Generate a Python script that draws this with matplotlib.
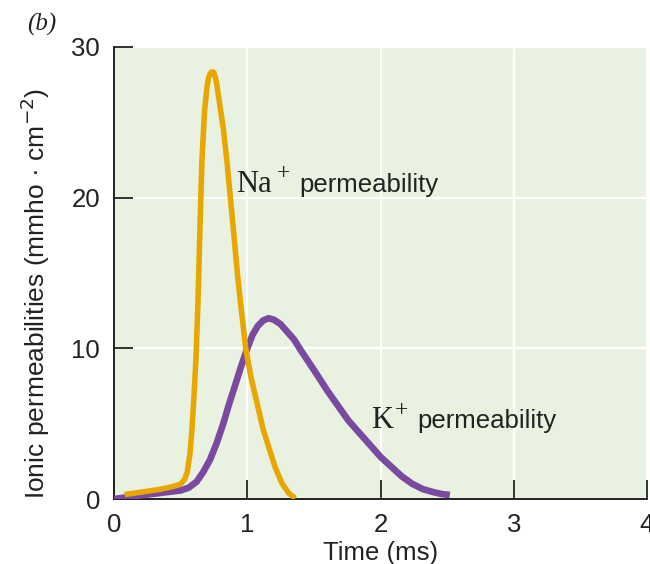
import matplotlib
matplotlib.use("Agg")
import matplotlib.pyplot as plt

# values (time in ms, permeability in mmho/cm^2)
na_time = [0.08, 0.20, 0.35, 0.45, 0.50, 0.53, 0.55, 0.57, 0.585, 0.60, 0.615,
           0.63, 0.645, 0.66, 0.68, 0.70, 0.71, 0.72, 0.73, 0.74, 0.75, 0.76,
           0.77, 0.78, 0.80, 0.82, 0.85, 0.87, 0.90, 0.93, 0.96, 0.99, 1.03,
           1.07, 1.12, 1.17, 1.21, 1.26, 1.31, 1.36]
na_perm = [0.30, 0.45, 0.65, 0.85, 1.00, 1.30, 1.80, 3.00, 4.60, 6.80, 9.30,
           13.0, 18.0, 22.5, 25.8, 27.5, 27.95, 28.2, 28.33, 28.35, 28.3, 28.0,
           27.6, 27.0, 25.8, 24.6, 22.2, 20.3, 17.5, 14.6, 12.2, 9.9, 8.0,
           6.5, 4.6, 3.2, 2.1, 1.05, 0.4, 0.05]

k_time = [0.0, 0.1, 0.2, 0.3, 0.4, 0.5, 0.56, 0.62, 0.67, 0.72, 0.77, 0.82,
          0.86, 0.90, 0.95, 1.00, 1.04, 1.08, 1.12, 1.16, 1.20, 1.25, 1.30,
          1.35, 1.40, 1.46, 1.52, 1.60, 1.68, 1.76, 1.84, 1.92, 2.00, 2.08,
          2.16, 2.24, 2.32, 2.40, 2.46, 2.52]
k_perm = [0.0, 0.12, 0.24, 0.35, 0.46, 0.57, 0.75, 1.15, 1.8, 2.6, 3.7, 5.0,
          6.2, 7.3, 8.7, 10.0, 10.9, 11.5, 11.85, 12.0, 11.9, 11.6, 11.1,
          10.6, 9.9, 9.1, 8.3, 7.2, 6.2, 5.2, 4.4, 3.6, 2.8, 2.15,
          1.5, 1.0, 0.65, 0.45, 0.33, 0.27]

x_ticks = [0, 1, 2, 3, 4]
y_ticks = [0, 10, 20, 30]

plt.rcParams['font.family'] = ['Liberation Sans', 'DejaVu Sans']

fs = 18.5
ink = '#222222'
fig = plt.figure(figsize=(6.5, 5.64), dpi=100)
ax = fig.add_axes([0.1754, 0.1152, 0.8200, 0.8015])
ax.set_facecolor('#e9f2e0')

ax.plot(k_time, k_perm, color='#7b4aa0', lw=4.8, solid_capstyle='butt',
        solid_joinstyle='round', zorder=3)
ax.plot(na_time, na_perm, color='#e8a700', lw=4.0, solid_capstyle='butt',
        solid_joinstyle='round', zorder=4)

ax.set_xlim(0, 4)
ax.set_ylim(0, 30)
ax.set_xticks(x_ticks)
ax.set_yticks(y_ticks)
ax.grid(color='white', lw=1.6)
ax.set_axisbelow(True)

for side in ['top', 'right']:
    ax.spines[side].set_visible(False)
for side in ['left', 'bottom']:
    ax.spines[side].set_linewidth(1.4)
    ax.spines[side].set_color(ink)

ax.tick_params(direction='in', length=14, width=1.3, color=ink,
               labelsize=fs, labelcolor=ink)
ax.tick_params(axis='x', pad=10)
ax.tick_params(axis='y', pad=10)

ax.set_xlabel('Time (ms)', fontsize=fs, color=ink, labelpad=3)
fig.text(35 / 650, 1 - 293 / 564,
         r'Ionic permeabilities (mmho · cm$^{\mathsf{-2}}$)',
         rotation=90, ha='center', va='center', fontsize=19, color=ink)


def ion_label(x, y, ion, ion_w, plus_w):
    # serif ion symbol, raised plus sign, then sans "permeability"
    ax.text(x, y, ion, family='Liberation Serif', fontsize=22, color=ink,
            va='baseline', zorder=5)
    ax.annotate('+', (x, y), xytext=(ion_w, 9), textcoords='offset points',
                family='Liberation Serif', fontsize=17, color=ink,
                va='baseline', zorder=5)
    ax.annotate('permeability', (x, y), xytext=(ion_w + plus_w, 0),
                textcoords='offset points', fontsize=fs, color=ink,
                va='baseline', zorder=5)


ion_label(0.92, 20.4, 'Na', 29, 16)
ion_label(1.93, 4.7, 'K', 17, 16)

fig.text(27 / 650, 1 - 24 / 564, '(b)', family='Liberation Serif',
         style='italic', fontsize=18, va='center', color=ink)

fig.savefig('out.png', dpi=100)
